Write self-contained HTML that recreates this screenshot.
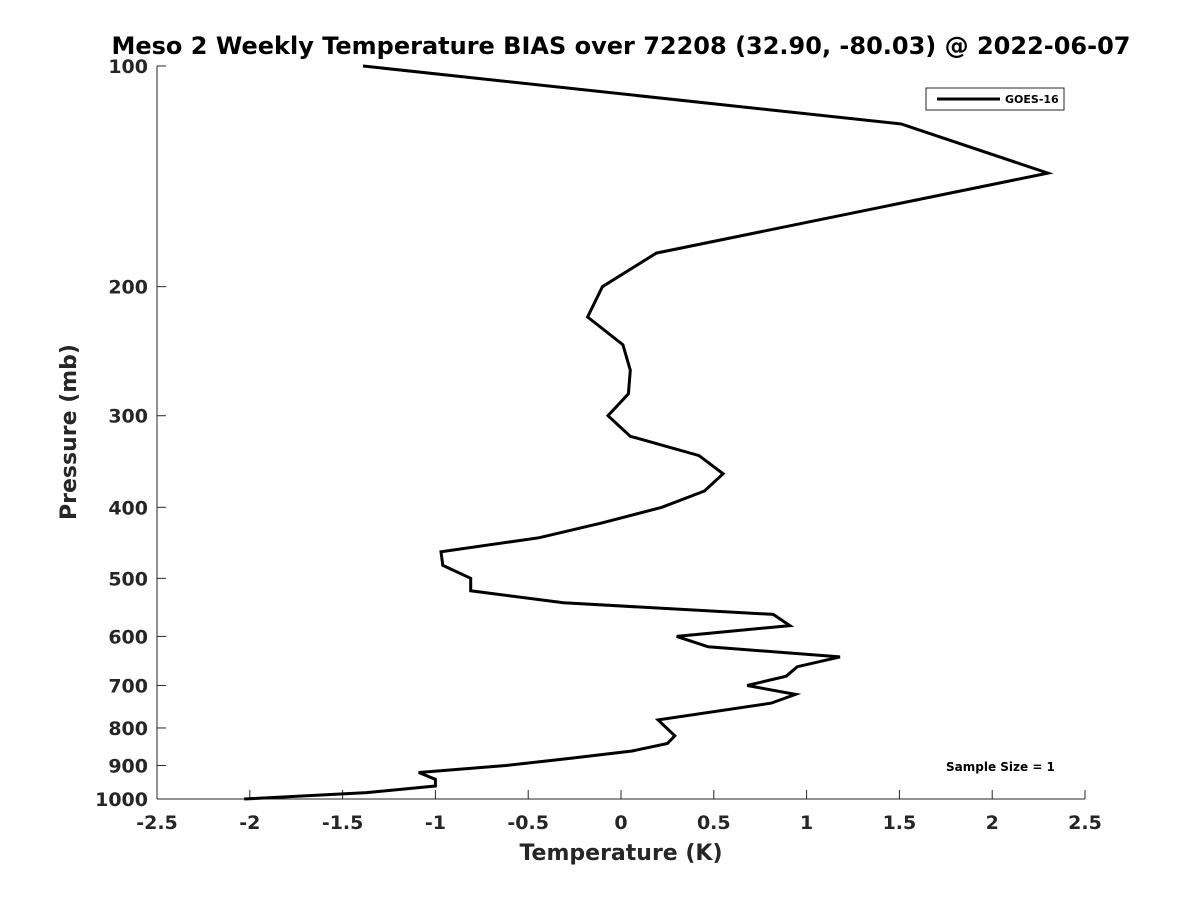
<!DOCTYPE html>
<html><head><meta charset="utf-8"><style>
body{margin:0;background:#fff;font-family:"Liberation Sans","DejaVu Sans",sans-serif;}
text{font-family:"DejaVu Sans","Liberation Sans",sans-serif;font-weight:bold;fill:#262626;}
</style></head><body>
<svg id="chart" width="1200" height="900" xmlns="http://www.w3.org/2000/svg">
<text x="621" y="54" font-size="24" text-anchor="middle" style="fill:#000">Meso 2 Weekly Temperature BIAS over 72208 (32.90, -80.03) @ 2022-06-07</text>
<g id="axes"></g>
<path id="line" fill="none" stroke="#000" stroke-width="3" stroke-linejoin="miter"/>
<g>
<rect x="926" y="88" width="138" height="22" fill="#fff" stroke="#262626" stroke-width="1"/>
<line x1="937" y1="99" x2="1000" y2="99" stroke="#000" stroke-width="3"/>
<text x="1005" y="103" font-size="11" style="fill:#000">GOES-16</text>
</g>
<text x="946" y="771" font-size="12" style="fill:#000">Sample Size = 1</text>
<text x="621" y="860" font-size="22" text-anchor="middle">Temperature (K)</text>
<text transform="translate(76,432) rotate(-90)" font-size="22" text-anchor="middle">Pressure (mb)</text>
</svg>
<script>
const pressures=[100,120,140,180,200,220,240,260,280,300,320,340,360,380,400,420,440,460,480,500,520,540,560,580,600,620,640,660,680,700,720,740,780,820,840,860,880,900,920,940,960,980,1000];
const bias=[-1.39,1.51,2.30,0.19,-0.10,-0.18,0.01,0.05,0.04,-0.07,0.05,0.42,0.55,0.45,0.22,-0.10,-0.44,-0.97,-0.96,-0.81,-0.81,-0.31,0.82,0.91,0.30,0.47,1.18,0.95,0.89,0.68,0.94,0.81,0.20,0.29,0.25,0.06,-0.27,-0.62,-1.09,-1.00,-1.00,-1.37,-2.03];
const xTicks=[-2.5,-2,-1.5,-1,-0.5,0,0.5,1,1.5,2,2.5];
const xTickLabels=["-2.5","-2","-1.5","-1","-0.5","0","0.5","1","1.5","2","2.5"];
const yTicks=[100,200,300,400,500,600,700,800,900,1000];
const L=157,R=1085,T=66,B=799;
const xs=v=>L+(v+2.5)/5*(R-L);
const ys=p=>T+Math.log10(p/100)*(B-T);
const NS="http://www.w3.org/2000/svg";
const ax=document.getElementById('axes');
function mk(t,a){const e=document.createElementNS(NS,t);for(const k in a)e.setAttribute(k,a[k]);return e;}
let l=mk('line',{x1:L,y1:B,x2:R,y2:B,stroke:'#262626','stroke-width':1});


ax.appendChild(l);
l=mk('line',{x1:L,y1:T,x2:L,y2:B,stroke:'#262626','stroke-width':1});


ax.appendChild(l);
xTicks.forEach((v,i)=>{
 const x=xs(v);
 ax.appendChild(mk('line',{x1:x,y1:B,x2:x,y2:B-9,stroke:'#262626'}));
 const t=mk('text',{x:x,y:B+30,'font-size':19,'text-anchor':'middle'});
 t.textContent=xTickLabels[i];
 
 
 ax.appendChild(t);
});
yTicks.forEach(p=>{
 const y=ys(p);
 ax.appendChild(mk('line',{x1:L,y1:y,x2:L+9,y2:y,stroke:'#262626'}));
 const t=mk('text',{x:L-9,y:y+7,'font-size':19,'text-anchor':'end'});
 t.textContent=String(p);
 
 
 ax.appendChild(t);
});
document.getElementById('line').setAttribute('d',pressures.map((p,i)=>(i?'L':'M')+xs(bias[i]).toFixed(1)+' '+ys(p).toFixed(1)).join(' '));
</script>
</body></html>
